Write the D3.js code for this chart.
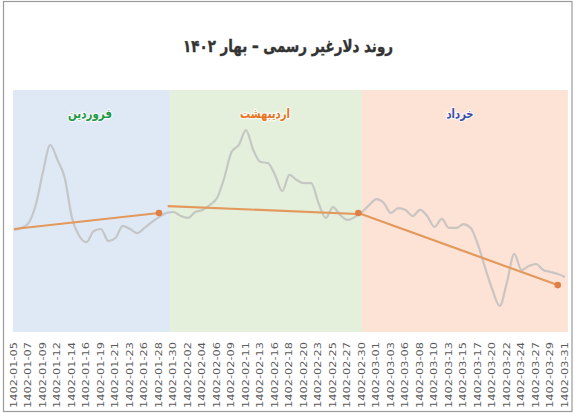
<!DOCTYPE html>
<html><head><meta charset="utf-8">
<script src="https://cdn.jsdelivr.net/npm/d3@7"></script>
<style>body{margin:0;background:#fff} svg{display:block}</style>
</head><body>
<svg id="c" width="575" height="413"></svg>
<script>
const categories = [
 "1402-01-05","1402-01-06","1402-01-07","1402-01-08","1402-01-09","1402-01-10","1402-01-12","1402-01-13","1402-01-14","1402-01-15","1402-01-16","1402-01-17","1402-01-19","1402-01-20","1402-01-21","1402-01-22","1402-01-23","1402-01-24","1402-01-26","1402-01-27","1402-01-28","1402-01-29","1402-01-30","1402-01-31",
 "1402-02-02","1402-02-03","1402-02-04","1402-02-05","1402-02-06","1402-02-07","1402-02-09","1402-02-10","1402-02-11","1402-02-12","1402-02-13","1402-02-14","1402-02-16","1402-02-17","1402-02-18","1402-02-19","1402-02-20","1402-02-21","1402-02-23","1402-02-24","1402-02-25","1402-02-26","1402-02-27","1402-02-28","1402-02-30","1402-02-31",
 "1402-03-01","1402-03-02","1402-03-03","1402-03-04","1402-03-06","1402-03-07","1402-03-08","1402-03-09","1402-03-10","1402-03-11","1402-03-13","1402-03-14","1402-03-15","1402-03-16","1402-03-17","1402-03-18","1402-03-20","1402-03-21","1402-03-22","1402-03-23","1402-03-24","1402-03-25","1402-03-27","1402-03-28","1402-03-29","1402-03-30","1402-03-31"
];
const rates = [
 50000,50120,50410,51470,53410,55000,54120,53060,50710,49650,49290,49940,50060,49350,49530,50240,50060,49820,50120,50470,50760,51000,51060,50820,
 50710,51060,51180,51470,51880,53060,54590,55000,55880,54710,54000,53940,53240,52290,53240,52940,52760,52760,51590,50710,51350,50880,50590,50760,51060,51470,
 51820,51590,51000,51290,51180,50820,51180,50820,50180,50650,50120,50120,50350,50120,49120,47760,46470,45530,46940,48590,47650,47880,48000,47650,47530,47410,47240
];
const title = "روند دلارغیر رسمی – بهار ۱۴۰۲";
const months = ["فروردین","اردیبهشت","خرداد"];
const monthColors = ["#dfe9f5","#e4f0dc","#fde3d6"];
const monthLabelColors = ["#1f9a48","#e8741e","#3c4fa8"];
const monthStart = [-0.15, 21.5, 48];
const monthEnd = [21.5, 48, 76.4];
const trendStartIdx = [0, 21.2, 47.5];
const trendEndIdx = [20, 47.3, 75];
const trendStartVal = [50060, 51410, 51000];
const trendEndVal = [51000, 50940, 46760];
const trendMarkStart = [false, false, true];
const trendMarkEnd = [true, false, true];

const svg = d3.select("#c");
const x = d3.scaleLinear().domain([0, 76]).range([14, 565]);
const y = d3.scaleLinear().domain([44000, 58000]).range([332, 94]);
const plotTop = 90, plotBottom = 332;

svg.append("rect").attr("x",0).attr("y",0).attr("width",575).attr("height",413).attr("fill","#fff");
svg.append("rect").attr("x",3.5).attr("y",1.5).attr("width",568.5).attr("height",410)
  .attr("fill","none").attr("stroke","#9a9a9a").attr("stroke-width",1.2);

// month regions
months.forEach((m,i)=>{
  svg.append("rect").attr("x",x(monthStart[i])).attr("y",plotTop)
    .attr("width",x(monthEnd[i])-x(monthStart[i])).attr("height",plotBottom-plotTop)
    .attr("fill",monthColors[i]);
});
const labelX = [90, 265, 460];
const labelW = [44, 50, 27];
months.forEach((m,i)=>{
  svg.append("text").attr("x",labelX[i]).attr("y",118).attr("text-anchor","middle")
    .attr("font-family","DejaVu Sans").attr("font-weight","bold").attr("font-size",13)
    .attr("fill",monthLabelColors[i]).attr("stroke","#ffffff").attr("stroke-width",2.5)
    .attr("stroke-opacity",0.7).attr("paint-order","stroke")
    .attr("textLength",labelW[i]).attr("lengthAdjust","spacingAndGlyphs").text(m);
});

// title
svg.append("text").attr("x",288).attr("y",52).attr("text-anchor","middle")
  .attr("font-family","DejaVu Sans").attr("font-weight","bold").attr("font-size",17)
  .attr("fill","#333").attr("stroke","#333").attr("stroke-width",0.4)
  .attr("textLength",210).attr("lengthAdjust","spacingAndGlyphs")
  .attr("direction","rtl").text(title);

// gray line
const line = d3.line().x((d,i)=>x(i)).y(d=>y(d)).curve(d3.curveMonotoneX);
svg.append("path").datum(rates).attr("d",line).attr("fill","none")
  .attr("stroke","#bdbdbd").attr("stroke-width",2.2).attr("stroke-opacity",0.8)
  .attr("stroke-linejoin","round");

// trend lines
months.forEach((m,i)=>{
  svg.append("line").attr("x1",x(trendStartIdx[i])).attr("y1",y(trendStartVal[i]))
    .attr("x2",x(trendEndIdx[i])).attr("y2",y(trendEndVal[i]))
    .attr("stroke","#e3985c").attr("stroke-width",2.2);
  if (trendMarkStart[i]) svg.append("circle").attr("cx",x(trendStartIdx[i])).attr("cy",y(trendStartVal[i])).attr("r",3.3).attr("fill","#e07e46");
  if (trendMarkEnd[i]) svg.append("circle").attr("cx",x(trendEndIdx[i])).attr("cy",y(trendEndVal[i])).attr("r",3.3).attr("fill","#e07e46");
});

// x labels
const axis = svg.append("g");
categories.forEach((c,i)=>{
  if (i % 2) return;
  axis.append("text").attr("transform",`translate(${x(i)},342) rotate(-90)`)
    .attr("text-anchor","end").attr("dy","0.35em")
    .attr("font-family","DejaVu Sans").attr("font-size",8.5).attr("fill","#5a5a5a")
    .attr("textLength",66).attr("lengthAdjust","spacingAndGlyphs").text(c);
});
</script>
</body></html>
